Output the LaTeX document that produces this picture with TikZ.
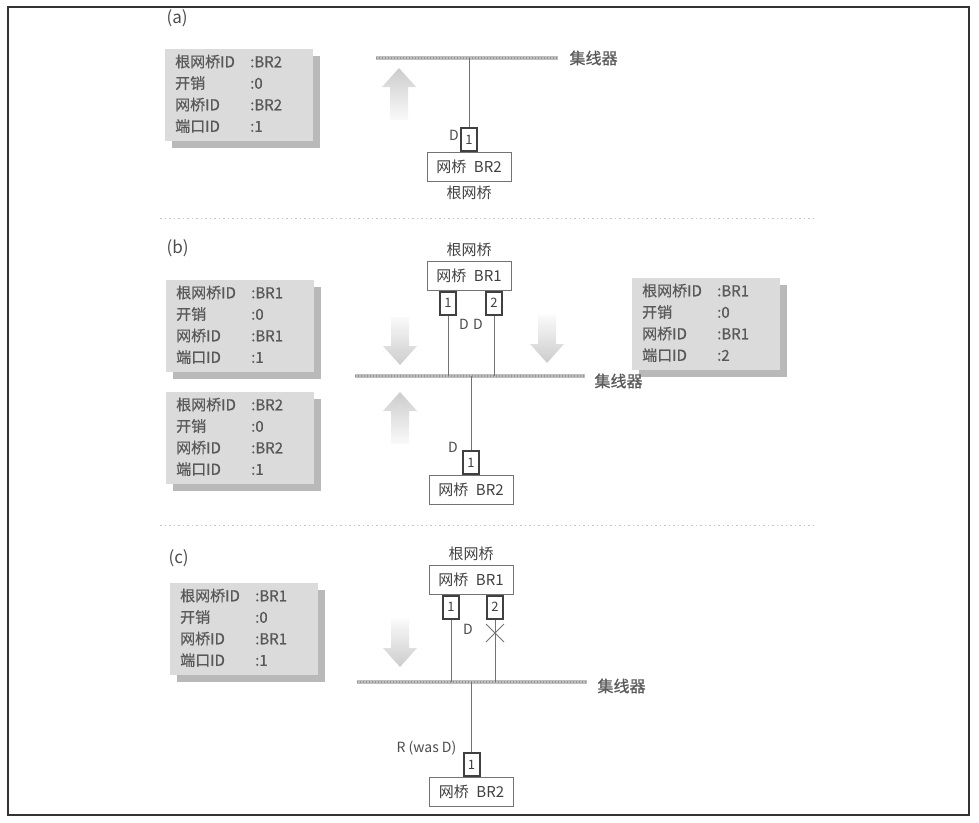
\documentclass[tikz,border=0pt]{standalone}
\usepackage{fontspec}
\setmainfont{Noto Sans CJK SC}
\newfontfamily\boxfont{Noto Sans CJK SC}[FakeBold=0.6]
\usetikzlibrary{positioning,shadows}

\newcommand{\infotab}[4]{%
  \begin{tabular}{@{}p{75pt}@{}l@{}}
    根网桥ID & :#1\\
    开销     & :#2\\
    网桥ID   & :#3\\
    端口ID   & :#4
  \end{tabular}}

\tikzset{
  flowup/.pic={\shade[top color=gray!40, bottom color=gray!4]
    (0,0) -- (17,19) -- (9,19) -- (9,52) -- (-9,52) -- (-9,19) -- (-17,19) -- cycle;},
  flowdown/.pic={\shade[top color=gray!4, bottom color=gray!40]
    (0,0) -- (17,-19) -- (9,-19) -- (9,-48) -- (-9,-48) -- (-9,-19) -- (-17,-19) -- cycle;}
}

\begin{document}
\begin{tikzpicture}[x=1pt, y=-1pt,
  every node/.style={font=\fontsize{15}{17}\selectfont, text=black!75},
  infobox/.style={anchor=north west, fill=gray!28, text width=128pt, inner xsep=10pt,
    inner ysep=3pt, minimum height=91pt, font=\boxfont\fontsize{15}{21.5}\selectfont, text=black!65,
    drop shadow={shadow xshift=7pt, shadow yshift=-7pt, fill=gray!55, opacity=1}},
  bridge/.style={draw=black!55, fill=white, minimum width=84pt, minimum height=29pt, inner sep=0pt},
  port/.style={draw=black!75, line width=2pt, fill=white, minimum width=16pt,
    minimum height=23pt, inner sep=0pt, font=\fontsize{13}{15}\selectfont},
  link/.style={draw=black!55, line width=0.8pt},
  hub/.style={line width=4pt, draw=gray!50,
    postaction={draw=gray!85, line width=1.6pt, dash pattern=on 1.2pt off 1.8pt}},
  hublabel/.style={anchor=west, font=\boxfont\fontsize{16}{18}\selectfont, text=black!65},
  tag/.style={font=\fontsize{14}{16}\selectfont, text=black!70, inner sep=1pt},
  panel/.style={anchor=west, font=\fontsize{17}{19}\selectfont, text=black!70},
  sep/.style={draw=gray!45, line width=1pt, dash pattern=on 1.5pt off 3pt}
]
\useasboundingbox (0,0) rectangle (979,822);
\draw[line width=1.2pt, black!80] (8,7) rectangle (969,815);

% (a) BR2 alone
\node[panel] (lblA) at (163,18) {(a)};
\node[infobox] (infoA) at (165,49) {\infotab{BR2}{0}{BR2}{1}};
\coordinate (hubA-w) at (376,58);
\coordinate (hubA-e) at (558,58);
\draw[hub] (hubA-w) -- (hubA-e);
\node[hublabel, right=8pt of hubA-e] (hubA) {集线器};
\pic at (399,68) {flowup};
\node[bridge] (brA) at (469,167) {网桥\enspace BR2};
\node[port, anchor=south] (pA) at (brA.north) {1};
\node[tag, anchor=east] (dA) at ([yshift=-8pt]pA.north west) {D};
\node[below=1pt of brA] (rootA) {根网桥};
\draw[link] (pA.north) -- (pA.north |- hubA-w);

\draw[sep] (160,218) -- (815,218);

% (b) BR1 joins
\node[panel] (lblB) at (163,248) {(b)};
\node[infobox] (infoB1) at (166,280) {\infotab{BR1}{0}{BR1}{1}};
\node[infobox] (infoB2) at (166,392) {\infotab{BR2}{0}{BR2}{1}};
\node[infobox] (infoB3) at (632,278) {\infotab{BR1}{0}{BR1}{2}};
\node[bridge] (brB1) at (469,276) {网桥\enspace BR1};
\node[above=1pt of brB1] (rootB) {根网桥};
\node[port, anchor=north] (pB1) at ([xshift=-21pt]brB1.south) {1};
\node[port, anchor=north] (pB2) at ([xshift=25pt]brB1.south) {2};
\coordinate (hubB-w) at (355,376);
\coordinate (hubB-e) at (585,376);
\draw[hub] (hubB-w) -- (hubB-e);
\node[hublabel, right=6pt of hubB-e, yshift=-5pt] (hubB) {集线器};
\draw[link] (pB1.south) -- (pB1.south |- hubB-w);
\draw[link] (pB2.south) -- (pB2.south |- hubB-w);
\node[tag, anchor=north west] (dB1) at ([xshift=1pt, yshift=-2pt]pB1.south east) {D};
\node[tag, anchor=north east] (dB2) at ([xshift=-1pt, yshift=-2pt]pB2.south west) {D};
\pic at (400,365) {flowdown};
\pic at (547,363) {flowdown};
\pic at (400,392) {flowup};
\node[bridge] (brB2) at (471,490) {网桥\enspace BR2};
\node[port, anchor=south] (pB3) at (brB2.north) {1};
\node[tag, anchor=east] (dB3) at ([xshift=-3pt, yshift=3pt]pB3.north west) {D};
\draw[link] (pB3.north) -- (pB3.north |- hubB-w);

\draw[sep] (160,525) -- (815,525);

% (c) BR1 is root
\node[panel] (lblC) at (165,558) {(c)};
\node[infobox] (infoC) at (170,583) {\infotab{BR1}{0}{BR1}{1}};
\node[bridge] (brC1) at (471,580) {网桥\enspace BR1};
\node[above=1pt of brC1] (rootC) {根网桥};
\node[port, anchor=north] (pC1) at ([xshift=-20pt]brC1.south) {1};
\node[port, anchor=north] (pC2) at ([xshift=24pt]brC1.south) {2};
\coordinate (hubC-w) at (357,682);
\coordinate (hubC-e) at (587,682);
\draw[hub] (hubC-w) -- (hubC-e);
\node[hublabel, right=7pt of hubC-e, yshift=-4pt] (hubC) {集线器};
\draw[link] (pC1.south) -- (pC1.south |- hubC-w);
\draw[link] (pC2.south) -- (pC2.south |- hubC-w);
\node[tag, anchor=north west] (dC1) at ([xshift=2pt, yshift=-3pt]pC1.south east) {D};
\coordinate (cut) at (pC2.south |- 0,633);
\draw[link, line width=1pt] (cut) +(-9,-9) -- +(9,9) +(-9,9) -- +(9,-9);
\pic at (400,667) {flowdown};
\node[bridge] (brC2) at (471.5,792) {网桥\enspace BR2};
\node[port, anchor=south] (pC3) at (brC2.north) {1};
\node[tag, anchor=east] (rC3) at ([xshift=-5pt, yshift=4pt]pC3.north west) {R (was D)};
\draw[link] (pC3.north) -- (pC3.north |- hubC-w);
\end{tikzpicture}
\end{document}
